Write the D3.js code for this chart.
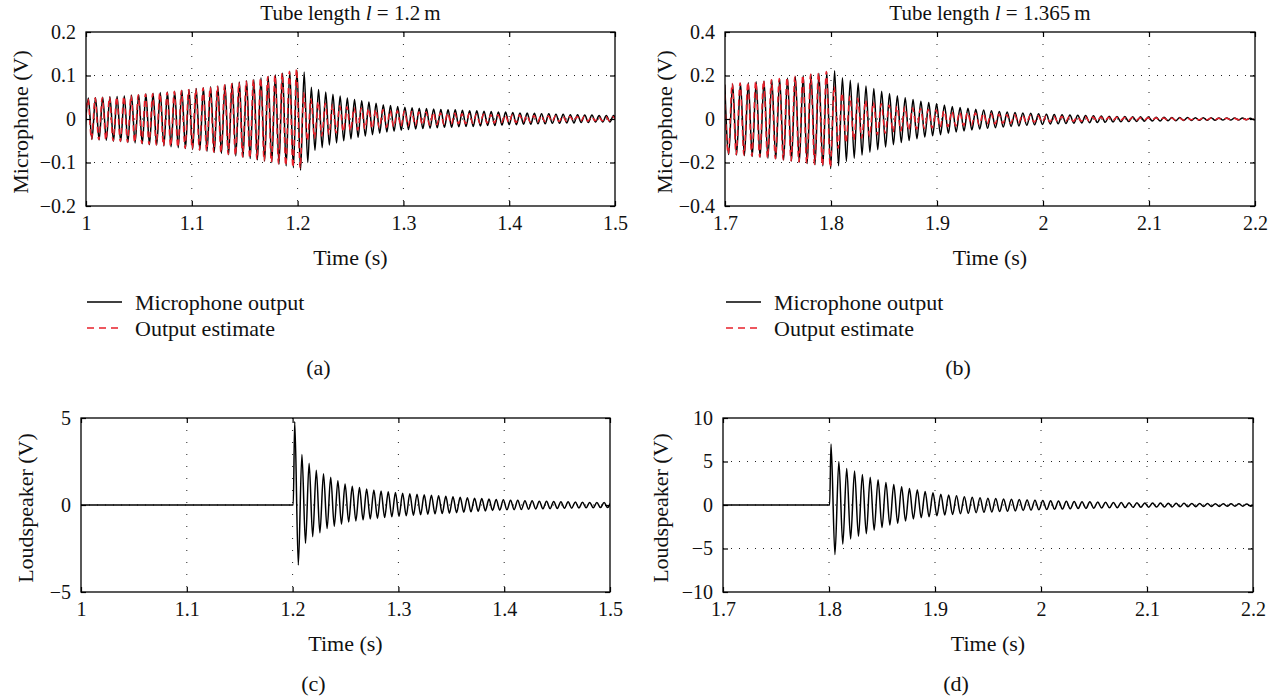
<!DOCTYPE html>
<html>
<head>
<meta charset="utf-8">
<script src="https://cdn.jsdelivr.net/npm/d3@7"></script>
<style>
  body { margin: 0; background: #fff; }
  svg { font-family: "Liberation Serif", "Times New Roman", serif; }
  .grid-x line { stroke: #222; stroke-width: 1; stroke-dasharray: 1, 11; }
  .grid-y line { stroke: #222; stroke-width: 1; stroke-dasharray: 1, 7; }
  .frame { fill: none; stroke: #000; stroke-width: 1.3; }
  .axis line { stroke: #000; stroke-width: 1.2; }
  .axis text { fill: #111; font-size: 20px; font-family: "Liberation Serif", serif; }
  .wave { fill: none; stroke-width: 1.5; stroke-linejoin: round; }
  .measured { stroke: #000; }
  .estimate { stroke: #e8202a; stroke-dasharray: 6, 4; }
  .label { font-size: 22px; fill: #111; }
  .title { font-size: 21px; fill: #111; }
</style>
</head>
<body>
<svg width="1280" height="696"></svg>
<script>
var svg = d3.select("svg");

// ---- values ----
var xTicksA = [1, 1.1, 1.2, 1.3, 1.4, 1.5];
var xTicksB = [1.7, 1.8, 1.9, 2, 2.1, 2.2];
var yTicksMicA = [-0.2, -0.1, 0, 0.1, 0.2];
var yTicksMicB = [-0.4, -0.2, 0, 0.2, 0.4];
var yTicksSpkA = [-5, 0, 5];
var yTicksSpkB = [-10, -5, 0, 5, 10];
var titles = ["1.2", "1.365"];
var legendLabels = ["Microphone output", "Output estimate"];
var captions = ["(a)", "(b)", "(c)", "(d)"];

// peak spacing (s) measured on the time axis
var periodA = 0.0068;
var periodB = 0.0074;

// (a) microphone output: troughs start at 0.9988 s, peaks half a period later
var micAFirst = 0.9988;
var micALows = [-0.046, -0.047, -0.048, -0.049, -0.051, -0.052, -0.054, -0.055, -0.057, -0.059,
  -0.060, -0.062, -0.064, -0.066, -0.068, -0.070, -0.072, -0.074, -0.077, -0.079,
  -0.082, -0.085, -0.088, -0.091, -0.094, -0.097, -0.100, -0.104, -0.108, -0.112,
  -0.118, -0.100, -0.072, -0.066, -0.060, -0.055, -0.050, -0.046, -0.042, -0.039,
  -0.036, -0.033, -0.030, -0.028, -0.026, -0.024, -0.023, -0.022, -0.021, -0.020,
  -0.019, -0.019, -0.018, -0.017, -0.017, -0.016, -0.015, -0.015, -0.014, -0.013,
  -0.013, -0.012, -0.012, -0.011, -0.011, -0.010, -0.010, -0.009, -0.009, -0.008,
  -0.008, -0.007, -0.007, -0.007, -0.006];
var micAHighs = [0.048, 0.049, 0.050, 0.051, 0.052, 0.053, 0.055, 0.056, 0.058, 0.059,
  0.061, 0.062, 0.064, 0.066, 0.068, 0.070, 0.072, 0.074, 0.076, 0.079,
  0.082, 0.085, 0.088, 0.091, 0.095, 0.098, 0.102, 0.106, 0.110, 0.112,
  0.108, 0.073, 0.068, 0.062, 0.057, 0.053, 0.048, 0.045, 0.042, 0.039,
  0.036, 0.033, 0.031, 0.029, 0.027, 0.026, 0.025, 0.024, 0.023, 0.022,
  0.021, 0.021, 0.020, 0.019, 0.019, 0.018, 0.017, 0.016, 0.016, 0.015,
  0.014, 0.014, 0.013, 0.012, 0.012, 0.011, 0.011, 0.010, 0.010, 0.009,
  0.009, 0.008, 0.008, 0.008, 0.007];

// (a) output estimate
var estAFirst = 0.9984;
var estALows = [-0.045, -0.046, -0.047, -0.048, -0.050, -0.051, -0.053, -0.054, -0.056, -0.058,
  -0.059, -0.061, -0.063, -0.065, -0.067, -0.069, -0.071, -0.073, -0.076, -0.078,
  -0.081, -0.084, -0.087, -0.090, -0.093, -0.096, -0.099, -0.103, -0.107, -0.111,
  -0.112, -0.050, -0.044, -0.039, -0.035, -0.032, -0.029, -0.027, -0.025, -0.023,
  -0.022, -0.020, -0.019, -0.018, -0.017, -0.016, -0.015, -0.014, -0.014, -0.013,
  -0.012, -0.012, -0.011, -0.011, -0.010, -0.010, -0.009, -0.009, -0.008, -0.008,
  -0.008, -0.007, -0.007, -0.007, -0.006, -0.006, -0.006, -0.005, -0.005, -0.005,
  -0.005, -0.004, -0.004, -0.004, -0.004];
var estAHighs = [0.046, 0.048, 0.049, 0.050, 0.051, 0.052, 0.054, 0.055, 0.057, 0.058,
  0.060, 0.061, 0.063, 0.065, 0.067, 0.069, 0.071, 0.073, 0.075, 0.078,
  0.081, 0.084, 0.087, 0.090, 0.094, 0.097, 0.101, 0.105, 0.109, 0.115,
  0.060, 0.046, 0.040, 0.036, 0.033, 0.030, 0.028, 0.026, 0.025, 0.024,
  0.022, 0.021, 0.020, 0.019, 0.018, 0.017, 0.016, 0.016, 0.015, 0.014,
  0.014, 0.013, 0.012, 0.012, 0.011, 0.011, 0.010, 0.010, 0.009, 0.009,
  0.009, 0.008, 0.008, 0.008, 0.007, 0.007, 0.007, 0.006, 0.006, 0.006,
  0.006, 0.005, 0.005, 0.005, 0.005];

// (b) microphone output: peaks start at 1.6998 s
var micBFirst = 1.6998;
var micBHighs = [0.158, 0.161, 0.164, 0.167, 0.171, 0.175, 0.179, 0.184, 0.189, 0.195,
  0.200, 0.205, 0.210, 0.215, 0.222, 0.190, 0.178, 0.165, 0.152, 0.140,
  0.128, 0.117, 0.107, 0.098, 0.090, 0.082, 0.076, 0.070, 0.064, 0.058,
  0.053, 0.049, 0.045, 0.041, 0.038, 0.035, 0.032, 0.030, 0.028, 0.026,
  0.024, 0.022, 0.021, 0.020, 0.018, 0.017, 0.016, 0.015, 0.014, 0.013,
  0.012, 0.011, 0.010, 0.010, 0.009, 0.008, 0.008, 0.007, 0.007, 0.007,
  0.006, 0.006, 0.006, 0.005, 0.005, 0.005, 0.005, 0.004, 0.004];
var micBLows = [-0.163, -0.166, -0.169, -0.172, -0.176, -0.180, -0.184, -0.189, -0.194, -0.199,
  -0.205, -0.210, -0.216, -0.228, -0.215, -0.195, -0.180, -0.166, -0.153, -0.141,
  -0.129, -0.118, -0.108, -0.099, -0.091, -0.083, -0.077, -0.072, -0.066, -0.060,
  -0.055, -0.050, -0.046, -0.043, -0.040, -0.037, -0.034, -0.032, -0.029, -0.027,
  -0.025, -0.023, -0.022, -0.021, -0.019, -0.018, -0.017, -0.016, -0.015, -0.014,
  -0.013, -0.012, -0.011, -0.010, -0.009, -0.009, -0.008, -0.008, -0.007, -0.007,
  -0.006, -0.006, -0.006, -0.005, -0.005, -0.005, -0.004, -0.004];

// (b) output estimate
var estBFirst = 1.6994;
var estBHighs = [0.160, 0.163, 0.166, 0.169, 0.173, 0.177, 0.181, 0.186, 0.191, 0.196,
  0.201, 0.206, 0.211, 0.218, 0.150, 0.120, 0.105, 0.095, 0.085, 0.077,
  0.070, 0.064, 0.059, 0.055, 0.051, 0.047, 0.044, 0.041, 0.038, 0.035,
  0.032, 0.030, 0.028, 0.026, 0.024, 0.022, 0.020, 0.019, 0.018, 0.016,
  0.015, 0.014, 0.013, 0.012, 0.011, 0.010, 0.010, 0.009, 0.009, 0.008,
  0.008, 0.007, 0.007, 0.006, 0.006, 0.006, 0.005, 0.005, 0.005, 0.005,
  0.004, 0.004, 0.004, 0.004, 0.004, 0.003, 0.003, 0.003];
var estBLows = [-0.160, -0.163, -0.166, -0.170, -0.174, -0.178, -0.182, -0.187, -0.192, -0.197,
  -0.203, -0.208, -0.214, -0.222, -0.135, -0.110, -0.097, -0.088, -0.080, -0.072,
  -0.065, -0.060, -0.055, -0.051, -0.047, -0.044, -0.041, -0.038, -0.035, -0.032,
  -0.030, -0.028, -0.026, -0.024, -0.022, -0.020, -0.019, -0.018, -0.016, -0.015,
  -0.014, -0.013, -0.012, -0.011, -0.010, -0.010, -0.009, -0.009, -0.008, -0.008,
  -0.007, -0.007, -0.006, -0.006, -0.006, -0.005, -0.005, -0.005, -0.005, -0.004,
  -0.004, -0.004, -0.004, -0.004, -0.003, -0.003, -0.003, -0.003];

// (c) loudspeaker, flat until the onset, then ringing
var spkAOnset = 1.2006;
var spkAFirst = 1.2020;
var spkAHighs = [4.8, 2.9, 2.4, 2.0, 1.8, 1.6, 1.4, 1.2, 1.08, 1.0,
  0.92, 0.86, 0.81, 0.76, 0.72, 0.68, 0.65, 0.62, 0.59, 0.56,
  0.53, 0.5, 0.47, 0.44, 0.42, 0.39, 0.37, 0.34, 0.32, 0.3,
  0.28, 0.27, 0.25, 0.24, 0.22, 0.21, 0.2, 0.19, 0.18, 0.17,
  0.16, 0.15, 0.14, 0.14, 0.13];
var spkALows = [-3.45, -2.2, -1.82, -1.6, -1.35, -1.22, -1.1, -0.98, -0.92, -0.86,
  -0.8, -0.77, -0.72, -0.68, -0.65, -0.62, -0.59, -0.56, -0.53, -0.51,
  -0.49, -0.47, -0.44, -0.41, -0.39, -0.36, -0.34, -0.32, -0.3, -0.28,
  -0.27, -0.26, -0.24, -0.23, -0.22, -0.21, -0.2, -0.19, -0.18, -0.17,
  -0.16, -0.16, -0.15, -0.15, -0.14];

// (d) loudspeaker
var spkBOnset = 1.8006;
var spkBFirst = 1.8019;
var spkBHighs = [7.0, 5.0, 4.2, 3.9, 3.5, 3.2, 2.9, 2.6, 2.35, 2.1,
  1.9, 1.75, 1.55, 1.4, 1.25, 1.15, 1.05, 0.95, 0.88, 0.82,
  0.78, 0.74, 0.7, 0.66, 0.62, 0.58, 0.55, 0.52, 0.49, 0.46,
  0.43, 0.4, 0.38, 0.36, 0.34, 0.32, 0.3, 0.28, 0.27, 0.26,
  0.24, 0.23, 0.22, 0.21, 0.2, 0.19, 0.18, 0.17, 0.16, 0.15,
  0.14, 0.13, 0.13, 0.12, 0.12];
var spkBLows = [-5.7, -4.5, -3.9, -3.6, -3.3, -2.9, -2.6, -2.3, -2.1, -1.85,
  -1.6, -1.46, -1.35, -1.23, -1.15, -1.08, -1.0, -0.95, -0.88, -0.84,
  -0.8, -0.76, -0.72, -0.68, -0.64, -0.6, -0.56, -0.53, -0.5, -0.47,
  -0.44, -0.41, -0.39, -0.37, -0.35, -0.33, -0.31, -0.29, -0.27, -0.26,
  -0.25, -0.24, -0.23, -0.22, -0.21, -0.2, -0.19, -0.18, -0.17, -0.16,
  -0.15, -0.14, -0.13, -0.13];

// ---- layout ----
var panels = [
  { id: "a", left: 86, right: 615, top: 32, bottom: 206, xTicks: xTicksA, yTicks: yTicksMicA,
    yLabel: "Microphone (V)", yLabelX: 20, title: titles[0], legend: 87, caption: captions[0] },
  { id: "b", left: 725, right: 1255, top: 32, bottom: 206, xTicks: xTicksB, yTicks: yTicksMicB,
    yLabel: "Microphone (V)", yLabelX: 664, title: titles[1], legend: 726, caption: captions[1] },
  { id: "c", left: 81, right: 610, top: 418, bottom: 592, xTicks: xTicksA, yTicks: yTicksSpkA,
    yLabel: "Loudspeaker (V)", yLabelX: 25, caption: captions[2] },
  { id: "d", left: 723, right: 1253, top: 418, bottom: 592, xTicks: xTicksB, yTicks: yTicksSpkB,
    yLabel: "Loudspeaker (V)", yLabelX: 660, caption: captions[3] }
];

// extrema alternate: the first list starts at `first`, the second half a period later
function extrema(first, period, firstList, secondList) {
  var pts = [];
  firstList.forEach((v, k) => pts.push([first + k * period, v]));
  secondList.forEach((v, k) => pts.push([first + period / 2 + k * period, v]));
  return pts.sort((p, q) => p[0] - q[0]);
}

var series = {
  a: [
    { cls: "measured", pts: extrema(micAFirst, periodA, micALows, micAHighs) },
    { cls: "estimate", pts: extrema(estAFirst, periodA, estALows, estAHighs) }
  ],
  b: [
    { cls: "measured", pts: extrema(micBFirst, periodB, micBHighs, micBLows) },
    { cls: "estimate", pts: extrema(estBFirst, periodB, estBHighs, estBLows) }
  ],
  c: [
    { cls: "measured", pts: [[xTicksA[0], 0], [spkAOnset, 0]].concat(extrema(spkAFirst, periodA, spkAHighs, spkALows)) }
  ],
  d: [
    { cls: "measured", pts: [[xTicksB[0], 0], [spkBOnset, 0]].concat(extrema(spkBFirst, periodB, spkBHighs, spkBLows)) }
  ]
};

var fmt = d3.format("~g");

function drawPanel(p) {
  var x = d3.scaleLinear().domain(d3.extent(p.xTicks)).range([p.left, p.right]);
  var y = d3.scaleLinear().domain(d3.extent(p.yTicks)).range([p.bottom, p.top]);
  var g = svg.append("g").attr("class", "panel-" + p.id);

  g.append("clipPath").attr("id", "clip-" + p.id)
    .append("rect")
    .attr("x", p.left).attr("y", p.top)
    .attr("width", p.right - p.left).attr("height", p.bottom - p.top);

  // dotted grid at interior ticks
  g.append("g").attr("class", "grid-x")
    .selectAll("line").data(p.xTicks.slice(1, -1)).join("line")
    .attr("x1", d => x(d)).attr("x2", d => x(d))
    .attr("y1", p.top).attr("y2", p.bottom);
  g.append("g").attr("class", "grid-y")
    .selectAll("line").data(p.yTicks.slice(1, -1)).join("line")
    .attr("x1", p.left).attr("x2", p.right)
    .attr("y1", d => y(d)).attr("y2", d => y(d));

  var line = d3.line().x(d => x(d[0])).y(d => y(d[1])).curve(d3.curveMonotoneX);
  g.append("g").attr("clip-path", "url(#clip-" + p.id + ")")
    .selectAll("path").data(series[p.id]).join("path")
    .attr("class", d => "wave " + d.cls)
    .attr("d", d => line(d.pts));

  // inward ticks on all four sides
  var bottomAxis = d3.axisBottom(x).tickValues(p.xTicks).tickFormat(fmt).tickSizeInner(-5).tickSizeOuter(0).tickPadding(10);
  var topAxis = d3.axisTop(x).tickValues(p.xTicks).tickFormat("").tickSizeInner(-5).tickSizeOuter(0);
  var leftAxis = d3.axisLeft(y).tickValues(p.yTicks).tickFormat(fmt).tickSizeInner(-5).tickSizeOuter(0).tickPadding(10);
  var rightAxis = d3.axisRight(y).tickValues(p.yTicks).tickFormat("").tickSizeInner(-5).tickSizeOuter(0);

  [[bottomAxis, 0, p.bottom], [topAxis, 0, p.top], [leftAxis, p.left, 0], [rightAxis, p.right, 0]]
    .forEach(a => {
      var ag = g.append("g").attr("class", "axis")
        .attr("transform", `translate(${a[1]},${a[2]})`)
        .call(a[0]);
      ag.attr("font-size", null).attr("font-family", null);
      ag.select(".domain").remove();
    });

  g.append("rect").attr("class", "frame")
    .attr("x", p.left).attr("y", p.top)
    .attr("width", p.right - p.left).attr("height", p.bottom - p.top);

  var cx = (p.left + p.right) / 2;
  g.append("text").attr("class", "label")
    .attr("transform", `translate(${p.yLabelX},${(p.top + p.bottom) / 2 + 3}) rotate(-90)`)
    .attr("text-anchor", "middle").attr("dy", "0.35em")
    .text(p.yLabel);

  g.append("text").attr("class", "label")
    .attr("x", cx).attr("y", p.bottom + 51).attr("dy", "0.35em")
    .attr("text-anchor", "middle").text("Time (s)");

  if (p.title) {
    var t = g.append("text").attr("class", "title")
      .attr("x", cx).attr("y", 13).attr("dy", "0.35em").attr("text-anchor", "middle");
    t.append("tspan").text("Tube length ");
    t.append("tspan").attr("font-style", "italic").text("l");
    t.append("tspan").text(" = " + p.title + "\u2009m");
  }

  if (p.legend) {
    var lg = g.append("g").attr("class", "legend");
    var rows = [{ cls: "measured", label: legendLabels[0], y: 302 },
                { cls: "estimate", label: legendLabels[1], y: 328 }];
    rows.forEach(r => {
      lg.append("line").attr("class", "wave " + r.cls)
        .attr("x1", p.legend).attr("x2", p.legend + 35)
        .attr("y1", r.y).attr("y2", r.y)
        .style("stroke-dasharray", r.cls === "estimate" ? "7,5" : null);
      lg.append("text").attr("class", "label")
        .attr("x", p.legend + 48).attr("y", r.y).attr("dy", "0.35em")
        .text(r.label);
    });
  }

  g.append("text").attr("class", "label")
    .attr("x", cx - 32).attr("y", p.legend ? 367 : p.bottom + 91).attr("dy", "0.35em")
    .attr("text-anchor", "middle").text(p.caption);
}

panels.forEach(drawPanel);
</script>
</body>
</html>
